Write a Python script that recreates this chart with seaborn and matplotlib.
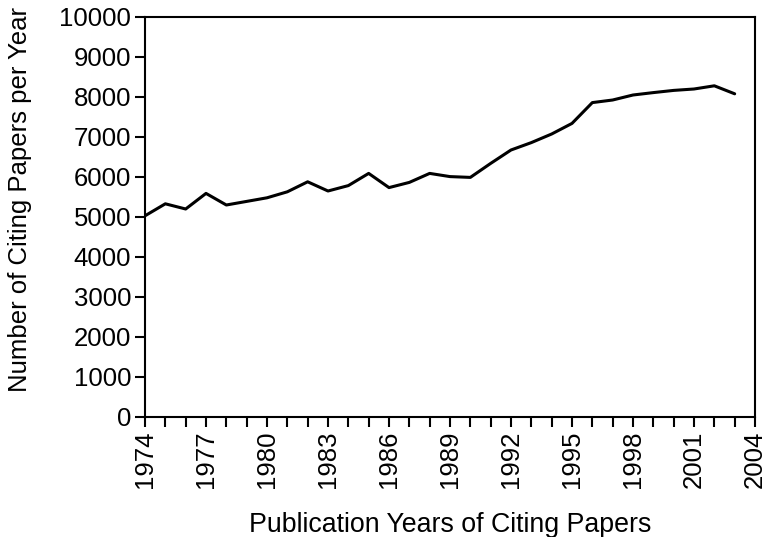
import numpy as np
import pandas as pd
import matplotlib
matplotlib.use('Agg')
import matplotlib.pyplot as plt
import seaborn as sns
from matplotlib.ticker import MultipleLocator

years = list(range(1974, 2004))
papers = [5030, 5330, 5200, 5590, 5300, 5390, 5480, 5630, 5880, 5650,
          5785, 6090, 5735, 5865, 6090, 6010, 5990, 6340, 6675, 6860,
          7075, 7340, 7860, 7925, 8050, 8110, 8165, 8200, 8280, 8080]

df = pd.DataFrame({'Year': years, 'Papers': papers})

sns.set_style('white')
plt.rcParams['font.family'] = ['Liberation Sans', 'DejaVu Sans']
plt.rcParams['text.color'] = 'black'
plt.rcParams['axes.labelcolor'] = 'black'
plt.rcParams['xtick.color'] = 'black'
plt.rcParams['ytick.color'] = 'black'

fig = plt.figure(figsize=(7.67, 5.37), dpi=100)
ax = fig.add_axes([145 / 767, 120 / 537, 610 / 767, 400 / 537])

sns.lineplot(data=df, x='Year', y='Papers', color='black', linewidth=2.2, ax=ax)

ax.set_xlim(1974, 2004)
ax.set_ylim(0, 10000)
ax.xaxis.set_major_locator(MultipleLocator(3))
ax.xaxis.set_minor_locator(MultipleLocator(1))
ax.yaxis.set_major_locator(MultipleLocator(1000))

for s in ax.spines.values():
    s.set_color('black')
    s.set_linewidth(1.5)

ax.tick_params(axis='x', which='both', direction='out', length=7, width=1.5,
               bottom=True, top=False, labelsize=18.5, rotation=90, pad=3)
ax.tick_params(axis='y', which='major', direction='out', length=7, width=1.5,
               left=True, right=False, labelsize=18.5, pad=3)

ax.set_xlabel('Publication Years of Citing Papers', fontsize=19.3, labelpad=17)
ax.set_ylabel('Number of Citing Papers per Year', fontsize=18.5)
ax.yaxis.set_label_coords(-0.185, 0.545)

fig.savefig('out.png', dpi=100)
